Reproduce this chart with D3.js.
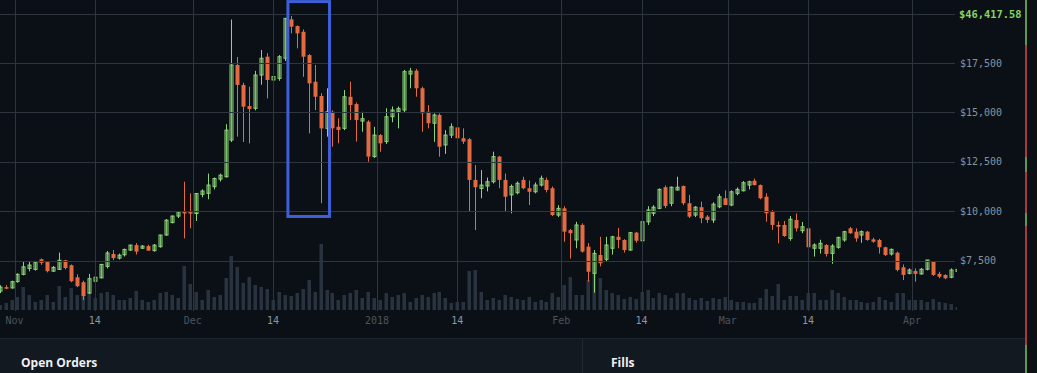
<!DOCTYPE html>
<html>
<head>
<meta charset="utf-8">
<script src="https://cdn.jsdelivr.net/npm/d3@7"></script>
<style>
  html, body { margin: 0; padding: 0; background: #0b1016; overflow: hidden; }
  svg { display: block; }
</style>
</head>
<body>
<svg id="chart" width="1037" height="373"></svg>
<script>
// daily BTC-USD candles, 29 Oct 2017 .. 8 Apr 2018
const firstDay = "2017-10-29";

const opens = [
  5950, 6150, 6110,
  6430, 6800, 7100, 7050, 7560, 7440, 6960, 7050, 7510, 7260, 6650, 6400, 5850, 6450, 6620,
  7200, 7830, 7620, 7790, 8030, 8280, 8120, 8230, 8000, 8200, 8790, 9420, 9750, 9960, 9950,
  9880, 10850, 10900, 11240, 11620, 11740, 13600, 17400, 16390, 15320, 15205, 16890, 17820, 16640, 16720,
  17740, 19710, 19370, 19080, 17900, 16550, 15830, 14190, 15030, 14270, 14190, 15790, 15420, 14560, 14530, 12760,
  13850, 13520, 14780, 15030, 15120, 16940, 17110, 16220, 15030, 14450, 14870, 13350, 13850, 14240, 13690,
  13640, 11580, 11150, 11270, 11490, 12760, 11580, 10820, 10930, 11580, 11160, 10980, 11320, 11580, 11160, 9800,
  10140, 9040, 8540, 9300, 8200, 6850, 7780, 7560, 8120, 8700, 8540, 8030, 8910, 8500,
  9460, 9890, 10140, 11210, 10400, 11070, 11270, 10400, 9800, 10200, 9720, 9550, 10220, 10650,
  10310, 10900, 11030, 11320, 11540, 11320, 10730, 9970, 9300, 9300, 8620, 9550, 9010, 9130, 8120,
  8120, 8285, 7860, 8170, 8540, 9130, 8960, 8790, 8960, 8570, 8540, 8170, 7830, 7895, 7155, 6850,
  6970, 6820, 7055, 7440, 6820, 6770, 6650, 6950
];
const highs = [
  6250, 6250, 6480,
  6850, 7440, 7440, 7480, 7600, 7460, 7220, 7900, 7530, 7300, 6800, 6480, 6820, 6700, 7330,
  7980, 8030, 7850, 8100, 8300, 8380, 8280, 8300, 8330, 8800, 9600, 9780, 9990, 11490, 10900,
  10920, 11100, 11900, 11700, 11900, 14400, 19700, 17800, 16500, 16300, 17100, 18160, 18000, 17200, 17900,
  19780, 19880, 19400, 19200, 17950, 17400, 15970, 16220, 15100, 14700, 16130, 16550, 15500, 15030, 14600, 14270,
  13900, 15210, 15300, 15300, 17150, 17250, 17200, 16300, 15370, 14950, 14950, 14100, 14440, 14400, 14190,
  13700, 12330, 12080, 11700, 13010, 12800, 11900, 11350, 11500, 11740, 11550, 11450, 11800, 11700, 11250, 10300,
  10250, 9100, 9460, 9380, 8380, 8030, 8700, 8700, 8750, 9150, 8580, 8950, 8950, 9500,
  10250, 10300, 11150, 11300, 11250, 11740, 11300, 10820, 10250, 10480, 9800, 10450, 10870, 11050,
  11050, 11200, 11520, 11540, 11650, 11350, 10900, 10050, 9480, 9500, 9750, 9880, 9450, 9300, 8370,
  8550, 8330, 8330, 8700, 9000, 9200, 9130, 9020, 9000, 8650, 8600, 8200, 8100, 7950, 7300, 7100,
  7100, 7120, 7530, 7450, 6930, 6800, 7100, 7100
];
const lows = [
  5850, 6050, 6080,
  6380, 6750, 6950, 6990, 7280, 6900, 6930, 7020, 7050, 6400, 6150, 5500, 5800, 6400, 6600,
  7100, 7520, 7550, 7700, 7980, 7800, 8100, 7990, 7950, 8150, 8750, 9380, 9650, 8620, 9130,
  9500, 10700, 10600, 11100, 11500, 11700, 13500, 13770, 13500, 13430, 15100, 16400, 15710, 16200, 16600,
  17600, 19000, 18240, 16800, 13940, 15120, 10400, 13770, 13260, 13430, 14100, 14610, 13520, 14020, 12500, 12700,
  13010, 13400, 14500, 14190, 15000, 16220, 15790, 14020, 14190, 13510, 12760, 12900, 13700, 13180, 13400,
  9970, 9040, 10650, 11000, 11400, 11160, 9970, 9890, 10850, 11100, 10310, 10900, 11250, 10950, 9750, 9700,
  8450, 7600, 8120, 7900, 6430, 5870, 7200, 7440, 7800, 8120, 7900, 8000, 8400, 8480,
  9300, 9750, 10100, 10150, 10250, 11050, 10300, 9650, 9700, 9390, 9400, 9400, 10150, 10300,
  10250, 10800, 11000, 11100, 11300, 10600, 9460, 9050, 8370, 8700, 8500, 8970, 8880, 7960, 7700,
  7850, 7700, 7330, 8100, 8450, 8850, 8450, 8400, 8500, 8400, 7850, 7730, 7750, 6950, 6510, 6800,
  6430, 6780, 7000, 6720, 6600, 6550, 6600, 6900
];
const closes = [
  6150, 6110, 6430,
  6800, 7180, 7270, 7420, 7380, 6960, 7150, 7510, 7120, 6450, 6200, 5700, 6580, 6650, 7300,
  7880, 7620, 7770, 8060, 8280, 7950, 8230, 8000, 8280, 8790, 9540, 9750, 9960, 9900, 9880,
  10890, 11020, 11320, 11650, 11820, 14100, 17400, 16390, 15290, 15170, 16890, 17740, 16640, 16810, 17820,
  19760, 19340, 19000, 17820, 16470, 15790, 14190, 15030, 14190, 14110, 15790, 15370, 14610, 14680, 12760, 13850,
  13430, 14780, 15120, 15200, 17060, 17090, 16220, 14950, 14450, 14870, 13260, 13850, 14270, 13690, 13520,
  11580, 11210, 11320, 11490, 12760, 11580, 10730, 11250, 11410, 11160, 10980, 11320, 11660, 11070, 9800, 10140,
  8960, 8880, 9300, 7950, 6930, 7860, 7360, 8285, 8700, 8540, 8030, 8910, 8500, 9460,
  10060, 10200, 11100, 10260, 11210, 11210, 10400, 9720, 10200, 9640, 9550, 10350, 10730, 10310,
  10980, 11100, 11440, 11490, 11320, 10650, 9890, 9300, 9210, 8740, 9590, 9130, 9210, 8170, 8285,
  8370, 7830, 8230, 8670, 8960, 8880, 8620, 8960, 8540, 8450, 8170, 7780, 8065, 7020, 6770, 7020,
  6820, 7055, 7525, 6770, 6680, 6600, 7020, 7050
];
// volume, thousand BTC
const volumes = [
  5, 7, 10,
  13, 23, 15, 8, 10, 15, 8, 24, 13, 22, 15, 22, 18, 12, 17,
  18, 15, 10, 10, 12, 19, 10, 8, 10, 17, 18, 15, 12, 44, 26,
  18, 10, 20, 13, 15, 32, 54, 43, 27, 33, 25, 23, 21, 10, 18,
  15, 14, 17, 21, 30, 18, 66, 20, 17, 10, 15, 17, 20, 12, 18, 12,
  10, 17, 13, 15, 17, 8, 12, 15, 13, 17, 18, 12, 7, 8, 8,
  39, 40, 18, 10, 12, 10, 15, 13, 11, 10, 13, 8, 10, 8, 17, 13,
  25, 33, 15, 15, 30, 37, 32, 20, 17, 15, 11, 13, 11, 18,
  20, 12, 17, 15, 12, 17, 17, 12, 10, 12, 9, 12, 11, 13,
  10, 8, 8, 7, 7, 12, 21, 14, 26, 10, 14, 14, 10, 17, 17,
  10, 10, 20, 17, 13, 10, 10, 8, 7, 8, 13, 10, 8, 17, 17, 10,
  10, 10, 8, 11, 8, 7, 6, 3
];

const tickDates = ["2017-11-01T00:00", "2017-11-14T12:00", "2017-12-01T00:00", "2017-12-14T12:00",
  "2018-01-01T00:00", "2018-01-14T12:00", "2018-02-01T00:00", "2018-02-14T12:00",
  "2018-03-01T00:00", "2018-03-14T12:00", "2018-04-01T00:00"];
const tickLabels = ["Nov", "14", "Dec", "14", "2018", "14", "Feb", "14", "Mar", "14", "Apr"];
const priceTicks = [7500, 10000, 12500, 15000, 17500, 20000];
const lastPrice = 46417.58;

// the blue box drawn over the chart
const boxFrom = "2017-12-17", boxTo = "2017-12-24";
const boxTop = 20610, boxBottom = 9730;

const plotW = 957, plotH = 311;
const upColor = "#8fd47b", upFill = "rgba(78,150,68,0.3)", downColor = "#e46a42";

const parseDay = d3.utcParse("%Y-%m-%d");
const parseTick = d3.utcParse("%Y-%m-%dT%H:%M");
const days = d3.utcDay.range(parseDay(firstDay), d3.utcDay.offset(parseDay(firstDay), closes.length));

const x = d3.scaleUtc()
  .domain([parseDay("2017-11-01"), parseDay("2018-04-01")])
  .range([14.5, 912]);
const y = d3.scaleLinear().domain([7500, 17500]).range([260.5, 63]);
const yVol = d3.scaleLinear().domain([0, 100]).range([310, 210]);

const svg = d3.select("#chart");

svg.append("rect").attr("width", 1037).attr("height", 373).attr("fill", "#0b1016");

svg.append("defs").append("clipPath").attr("id", "plot")
  .append("rect").attr("width", plotW).attr("height", plotH);

const plot = svg.append("g").attr("clip-path", "url(#plot)");

// volume
plot.append("g").selectAll("rect")
  .data(volumes)
  .join("rect")
    .attr("x", (d, i) => Math.round(x(d3.utcHour.offset(days[i], 12))) - 1.5)
    .attr("width", 3.5)
    .attr("y", d => yVol(d))
    .attr("height", d => yVol(0) - yVol(d))
    .attr("fill", "#29333f");

// grid
const grid = svg.append("g").attr("stroke", "#2d353f").attr("stroke-width", 1);
grid.selectAll(".h")
  .data(priceTicks)
  .join("line")
    .attr("x1", 0).attr("x2", 955)
    .attr("y1", d => Math.round(y(d)) + 0.5)
    .attr("y2", d => Math.round(y(d)) + 0.5);
grid.selectAll(".v")
  .data(tickDates)
  .join("line")
    .attr("x1", d => Math.round(x(parseTick(d))) + 0.5)
    .attr("x2", d => Math.round(x(parseTick(d))) + 0.5)
    .attr("y1", 0).attr("y2", 311);

// candles
const candle = plot.append("g").selectAll("g")
  .data(closes)
  .join("g")
    .attr("transform", (d, i) => `translate(${Math.round(x(d3.utcHour.offset(days[i], 12)))},0)`);

candle.append("line")
  .attr("x1", 0.5).attr("x2", 0.5)
  .attr("y1", (d, i) => y(highs[i]))
  .attr("y2", (d, i) => y(lows[i]))
  .attr("stroke", (d, i) => d >= opens[i] ? upColor : downColor)
  .attr("stroke-width", 1);

candle.append("rect")
  .attr("x", (d, i) => d >= opens[i] ? -1 : -1.5)
  .attr("width", (d, i) => d >= opens[i] ? 3 : 4)
  .attr("y", (d, i) => y(Math.max(d, opens[i])))
  .attr("height", (d, i) => Math.max(1.5, Math.abs(y(d) - y(opens[i]))))
  .attr("fill", (d, i) => d >= opens[i] ? upFill : downColor)
  .attr("stroke", (d, i) => d >= opens[i] ? upColor : "none")
  .attr("stroke-width", 1);

// blue box
svg.append("rect")
  .attr("x", x(parseDay(boxFrom)))
  .attr("width", x(parseDay(boxTo)) - x(parseDay(boxFrom)))
  .attr("y", y(boxTop))
  .attr("height", y(boxBottom) - y(boxTop))
  .attr("fill", "none")
  .attr("stroke", "#3f5fd8")
  .attr("stroke-width", 3);

// price axis
const fmt = d3.format("$,");
svg.append("g").selectAll("text")
  .data(priceTicks.filter(d => d < 20000))
  .join("text")
    .attr("x", 960)
    .attr("y", d => y(d))
    .attr("dy", "0.35em")
    .attr("fill", "#8a929c")
    .style("font", "10px 'DejaVu Sans Mono', monospace")
    .text(d => fmt(d));

svg.append("text")
  .attr("x", 959)
  .attr("y", Math.max(y(lastPrice), 14))
  .attr("dy", "0.35em")
  .attr("fill", "#86d661")
  .style("font", "bold 10.4px 'DejaVu Sans Mono', monospace")
  .text(d3.format("$,.2f")(lastPrice));

// time axis
svg.append("g").selectAll("text")
  .data(tickDates)
  .join("text")
    .attr("x", d => x(parseTick(d)))
    .attr("y", 320)
    .attr("dy", "0.35em")
    .attr("text-anchor", "middle")
    .attr("fill", (d, i) => tickLabels[i] === "14" ? "#8d959e" : "#4c545e")
    .style("font", "10px 'DejaVu Sans Mono', monospace")
    .text((d, i) => tickLabels[i]);

// lower panel
svg.append("rect").attr("x", 0).attr("y", 339).attr("width", 1025).attr("height", 34).attr("fill", "#121920");
svg.append("line").attr("x1", 0).attr("x2", 1025).attr("y1", 338.5).attr("y2", 338.5).attr("stroke", "#1e262f");
svg.append("line").attr("x1", 582.5).attr("x2", 582.5).attr("y1", 339).attr("y2", 373).attr("stroke", "#1f2831");
svg.append("text").attr("x", 21).attr("y", 367).attr("fill", "#eef0f2")
  .style("font", "bold 12px 'Open Sans', sans-serif").text("Open Orders");
svg.append("text").attr("x", 611).attr("y", 367).attr("fill", "#eef0f2")
  .style("font", "bold 12px 'Open Sans', sans-serif").text("Fills");

// right edge
svg.append("rect").attr("x", 1027).attr("y", 0).attr("width", 10).attr("height", 373).attr("fill", "#0d1116");
svg.append("rect").attr("x", 1025).attr("y", 0).attr("width", 2).attr("height", 373).attr("fill", "#a53b3b");
[[0, 45], [157, 172], [213, 226], [345, 373]].forEach(s => {
  svg.append("rect").attr("x", 1025).attr("y", s[0]).attr("width", 2).attr("height", s[1] - s[0]).attr("fill", "#5f9650");
});
</script>
</body>
</html>
